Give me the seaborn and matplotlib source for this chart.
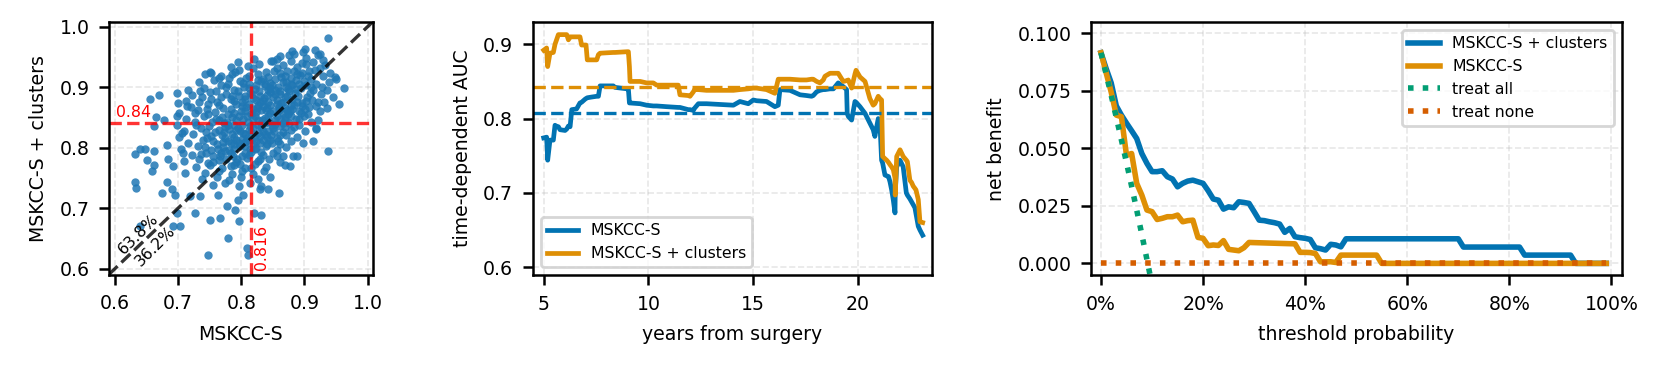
import numpy as np
import matplotlib
matplotlib.use('Agg')
import matplotlib.pyplot as plt
import seaborn as sns
from matplotlib.ticker import PercentFormatter, FormatStrFormatter

# ─────────────────────────────────────────
# Podaci (procijenjeno sa slike)
# ─────────────────────────────────────────

# panel 1: bootstrap C-index parovi (x = MSKCC-S, y = MSKCC-S + clusters), u hiljaditim
boot_pairs = """
938 981, 963 899, 955 873, 950 913, 938 794, 914 811, 919 833, 811 623, 748 623,
809 634, 820 692, 832 689, 797 678, 779 650, 766 684, 751 681, 790 697, 777 703,
795 714, 803 722, 859 725, 843 731, 830 731, 763 722, 735 720, 719 720, 727 692,
703 671, 692 670, 698 692, 639 671, 631 744, 634 733, 631 789, 640 797, 647 797,
650 780, 658 761, 662 772, 662 794, 662 836, 656 881, 669 887, 665 850, 677 845,
674 725, 682 744, 690 731, 695 722, 682 805, 684 781, 692 769, 698 891, 700 874,
699 852, 715 895, 714 869, 706 825, 707 791, 711 758, 735 894, 742 921, 750 925,
764 916, 795 941, 820 946, 851 944, 881 960, 901 963, 916 962, 925 955, 869 772,
877 769, 882 786, 888 786,
862 951, 884 955, 903 948, 921 953, 897 958, 930 945,
828 938, 847 943, 866 936, 879 944, 902 939, 914 942, 933 937, 811 935, 856 947,
797 928, 818 932, 839 925, 857 931, 872 927, 889 934, 907 926, 924 931, 941 924, 783 933,
768 918, 786 922, 808 915, 826 921, 843 917, 861 923, 878 916, 893 920, 911 914, 929 919, 752 924, 948 917,
733 908, 757 912, 779 906, 798 911, 813 905, 832 910, 849 904, 866 909, 881 903, 899 911, 918 906, 939 909,
741 898, 768 903, 788 896, 804 901, 821 897, 838 902, 853 895, 871 900, 886 897, 902 903, 914 896, 928 901,
722 887, 751 892, 776 889, 797 885, 814 891, 829 886, 846 892, 861 888, 876 893, 890 886, 909 891, 926 888, 946 884,
712 878, 738 883, 762 876, 784 881, 801 875, 818 882, 834 877, 851 883, 866 876, 881 880, 896 874, 912 879, 931 876,
721 868, 748 872, 771 866, 792 873, 808 867, 826 871, 841 865, 856 872, 869 866, 884 870, 901 864, 918 869, 936 866,
702 857, 731 862, 758 859, 779 855, 799 861, 816 856, 831 862, 846 857, 859 863, 874 855, 891 860, 906 856, 924 861,
712 848, 741 852, 764 846, 786 851, 803 847, 822 853, 838 849, 854 845, 869 851, 886 847, 899 852, 921 846,
698 838, 726 842, 749 836, 772 841, 789 837, 811 843, 826 838, 844 842, 861 836, 876 841, 892 837, 911 843,
709 828, 736 832, 758 826, 781 831, 798 827, 819 833, 834 828, 851 832, 866 826, 879 830, 901 827, 919 831,
701 818, 724 822, 746 816, 769 821, 788 817, 806 823, 821 818, 838 822, 856 816, 871 821, 889 817,
716 808, 739 812, 761 806, 779 811, 796 807, 812 813, 829 808, 846 812, 862 806, 879 811, 898 808,
704 798, 731 802, 752 796, 771 801, 789 797, 806 803, 821 798, 839 802, 856 796, 871 801,
722 788, 744 792, 766 786, 784 791, 801 787, 816 793, 834 788, 851 792, 866 786,
709 778, 733 782, 756 776, 776 781, 791 777, 809 783, 826 778, 844 782, 861 776,
728 768, 751 772, 769 766, 789 771, 806 767, 821 773, 839 768,
743 758, 764 762, 786 756, 801 761, 819 757, 836 762,
738 748, 761 752, 781 746, 799 751, 826 748, 846 752,
756 738, 774 742, 796 736, 814 741, 831 737,
790 925, 812 919, 835 914, 852 926, 869 918, 887 912, 905 918, 776 901, 795 893,
812 898, 828 893, 845 899, 862 894, 878 905, 894 899, 768 883, 789 878, 806 886,
824 879, 841 887, 857 879, 873 885, 888 876, 904 884, 764 871, 783 864, 801 869,
818 864, 835 869, 850 861, 866 858, 881 864, 896 869, 747 856, 769 851, 792 845,
809 852, 827 846, 843 853, 862 847, 878 852, 754 842, 774 835, 795 832, 814 836,
832 834, 849 837, 866 841, 883 834, 744 826, 764 829, 786 823, 803 825, 826 824,
843 827, 862 821, 756 811, 774 816, 792 813, 809 816, 824 811, 841 806, 742 801,
763 797, 781 796, 798 803, 814 798, 831 793,
837 906, 854 913, 871 909, 888 921, 823 903, 842 896, 858 901, 874 897, 891 905,
817 888, 836 882, 853 889, 869 883, 885 891, 902 878, 812 872, 829 876, 846 870,
863 874, 879 871, 895 858, 788 858, 806 861, 823 859, 839 862, 856 852, 872 862,
778 843, 801 838, 819 847, 837 841, 853 839, 870 845, 773 826, 791 829, 812 829,
829 819, 847 821, 783 808, 801 815, 818 806, 835 812, 768 792, 787 786, 806 791,
849 807, 726 857, 733 876, 729 838, 745 864, 752 881, 916 928, 896 940, 876 953,
780 916, 803 907, 826 912, 845 907, 863 917, 884 926, 760 893, 785 886, 806 880,
825 866, 842 876, 860 868, 877 860, 892 848, 760 848, 779 838, 797 852, 815 826,
833 845, 852 828, 869 834, 752 820, 771 809, 789 806, 806 809, 823 800, 840 818,
858 811, 737 790, 756 786, 775 795, 794 781, 812 788, 829 781, 747 774, 764 779,
783 770, 798 773, 815 766, 856 786, 908 868, 922 876, 911 900, 896 923, 935 895
"""
mean_base = 0.816
mean_clust = 0.84
pct_above = '63.8%'
pct_below = '36.2%'

# panel 2: time-dependent AUC
years = [5.0, 5.14, 5.19, 5.3, 5.46, 5.54, 5.59, 5.7, 5.78, 6.02, 6.1, 6.18, 6.26, 6.34,
         6.57, 6.73, 6.81, 6.97, 7.02, 7.08, 7.29, 7.53, 7.61, 7.69, 8.32, 8.4, 8.99,
         9.04, 9.09, 9.12, 9.6, 9.91, 10.23, 10.39, 10.87, 11.42, 11.5, 11.9, 11.98,
         12.14, 12.2, 12.38, 12.77, 14.05, 14.36, 14.76, 15.0, 15.16, 15.63, 16.03,
         16.19, 16.27, 16.75, 17.23, 17.54, 17.78, 17.86, 18.02, 18.18, 18.34, 18.42,
         18.66, 18.82, 19.05, 19.29, 19.45, 19.48, 19.53, 19.69, 19.85, 19.9, 20.09,
         20.33, 20.56, 20.72, 20.8, 20.96, 21.04, 21.12, 21.17, 21.28, 21.36, 21.45,
         21.52, 21.6, 21.68, 21.76, 21.77, 21.84, 22.0, 22.15, 22.3, 22.35, 22.47,
         22.55, 22.63, 22.71, 22.76, 22.87, 22.95, 23.08]
auc_base = [0.774, 0.775, 0.744, 0.771, 0.771, 0.791, 0.790, 0.789, 0.785, 0.784, 0.786,
            0.790, 0.789, 0.812, 0.813, 0.821, 0.822, 0.826, 0.827, 0.828, 0.829, 0.830,
            0.830, 0.844, 0.844, 0.842, 0.840, 0.840, 0.821, 0.821, 0.820, 0.818, 0.817,
            0.817, 0.816, 0.815, 0.815, 0.812, 0.812, 0.811, 0.814, 0.820, 0.820, 0.818,
            0.823, 0.820, 0.825, 0.824, 0.823, 0.816, 0.818, 0.839, 0.838, 0.832, 0.831,
            0.830, 0.831, 0.836, 0.838, 0.839, 0.839, 0.840, 0.840, 0.848, 0.843, 0.839,
            0.807, 0.803, 0.798, 0.823, 0.822, 0.816, 0.807, 0.794, 0.785, 0.776, 0.800,
            0.794, 0.744, 0.740, 0.724, 0.723, 0.722, 0.715, 0.704, 0.690, 0.673, 0.700,
            0.735, 0.744, 0.735, 0.700, 0.697, 0.692, 0.688, 0.684, 0.680, 0.672, 0.655,
            0.650, 0.643]
auc_clust = [0.892, 0.895, 0.870, 0.888, 0.889, 0.900, 0.904, 0.913, 0.913, 0.913, 0.913,
             0.906, 0.910, 0.910, 0.910, 0.910, 0.899, 0.899, 0.899, 0.879, 0.879, 0.879,
             0.886, 0.888, 0.889, 0.889, 0.890, 0.890, 0.870, 0.850, 0.850, 0.848, 0.848,
             0.845, 0.845, 0.845, 0.832, 0.831, 0.830, 0.836, 0.839, 0.839, 0.838, 0.838,
             0.839, 0.840, 0.841, 0.841, 0.839, 0.834, 0.853, 0.853, 0.853, 0.852, 0.852,
             0.853, 0.853, 0.850, 0.848, 0.852, 0.857, 0.861, 0.861, 0.861, 0.850, 0.851,
             0.851, 0.852, 0.841, 0.860, 0.865, 0.856, 0.850, 0.827, 0.818, 0.820, 0.830,
             0.827, 0.825, 0.749, 0.746, 0.744, 0.741, 0.738, 0.735, 0.731, 0.720, 0.697,
             0.749, 0.758, 0.749, 0.744, 0.742, 0.717, 0.714, 0.709, 0.706, 0.704, 0.691,
             0.661, 0.660]
mean_auc_base = 0.808
mean_auc_clust = 0.842

# panel 3: decision curve (net benefit)
thr_clust = [0.00, 0.01, 0.02, 0.03, 0.04, 0.05, 0.06, 0.07, 0.08, 0.09, 0.10, 0.11, 0.12,
             0.13, 0.14, 0.15, 0.16, 0.17, 0.18, 0.19, 0.20, 0.21, 0.22, 0.23, 0.24, 0.25,
             0.26, 0.27, 0.28, 0.29, 0.30, 0.31, 0.32, 0.33, 0.34, 0.35, 0.36, 0.37, 0.38,
             0.39, 0.40, 0.41, 0.42, 0.43, 0.44, 0.45, 0.46, 0.47, 0.48, 0.70, 0.71, 0.82,
             0.83, 0.92, 0.93, 0.99]
nb_clust = [0.0916, 0.0848, 0.0785, 0.0685, 0.0645, 0.0610, 0.0577, 0.0543, 0.0478,
            0.0435, 0.0399, 0.0399, 0.0403, 0.0377, 0.0367, 0.0333, 0.0348, 0.0358, 0.0362,
            0.0355, 0.0348, 0.0316, 0.0280, 0.0275, 0.0236, 0.0246, 0.0242, 0.0268, 0.0265,
            0.0261, 0.0225, 0.0188, 0.0186, 0.0181, 0.0177, 0.0171, 0.0135, 0.0152, 0.0116,
            0.0112, 0.0109, 0.0104, 0.0068, 0.0064, 0.0058, 0.0083, 0.0080, 0.0072, 0.0107,
            0.0107, 0.0071, 0.0071, 0.0036, 0.0036, 0.0, 0.0]
thr_base = [0.00, 0.01, 0.02, 0.03, 0.04, 0.05, 0.06, 0.07, 0.08, 0.09, 0.10, 0.11, 0.12,
            0.13, 0.14, 0.15, 0.16, 0.17, 0.18, 0.19, 0.20, 0.21, 0.22, 0.23, 0.24, 0.25,
            0.26, 0.27, 0.28, 0.29, 0.38, 0.39, 0.40, 0.41, 0.42, 0.43, 0.44, 0.45, 0.46,
            0.47, 0.54, 0.55, 0.99]
nb_base = [0.0916, 0.0830, 0.0745, 0.0645, 0.0638, 0.0470, 0.0478, 0.0348, 0.0297,
           0.0232, 0.0225, 0.0191, 0.0196, 0.0203, 0.0203, 0.0210, 0.0181, 0.0186, 0.0188,
           0.0113, 0.0109, 0.0077, 0.0080, 0.0078, 0.0099, 0.0061, 0.0058, 0.0055, 0.0068,
           0.0091, 0.0085, 0.0048, 0.0048, 0.0047, 0.0043, 0.0007, 0.0007, 0.0007, 0.0004,
           0.0036, 0.0036, 0.0, 0.0]
thr_all = [0.00, 0.01, 0.02, 0.03, 0.04, 0.05, 0.06, 0.07, 0.08, 0.09, 0.10, 0.11, 0.12]
nb_all = [0.0916, 0.0824, 0.0731, 0.0635, 0.0537, 0.0438, 0.0336, 0.0232, 0.0126,
          0.0017, -0.0093, -0.0207, -0.0323]
thr_none = [0.00, 0.99]
nb_none = [0.0, 0.0]

# ─────────────────────────────────────────
# Stil
# ─────────────────────────────────────────
plt.rcParams.update({
    'font.size': 6.8,
    'axes.linewidth': 0.9,
    'xtick.major.width': 0.9,
    'ytick.major.width': 0.9,
    'legend.fontsize': 'small',
})
pal = sns.color_palette('colorblind')
c_blue, c_orange, c_green, c_red = pal[0], pal[1], pal[2], pal[3]

pairs = np.array([[int(v) for v in p.split()] for p in boot_pairs.replace('\n', ' ').split(',')
                  if p.strip()]) / 1000.0

fig = plt.figure(figsize=(8.305, 1.87), dpi=200)
ax1 = fig.add_axes([0.0656, 0.2647, 0.1589, 0.6765])
ax2 = fig.add_axes([0.3207, 0.2638, 0.2406, 0.6774])
ax3 = fig.add_axes([0.6567, 0.2638, 0.3196, 0.6774])

for ax in (ax1, ax2, ax3):
    ax.grid(True, linestyle='--', linewidth=0.6, alpha=0.3)
    ax.set_axisbelow(True)

# panel 1
sns.scatterplot(x=pairs[:, 0], y=pairs[:, 1], ax=ax1, s=9, linewidth=0,
                color='tab:blue', alpha=0.85)
ax1.plot([0.59, 1.01], [0.59, 1.01], '--', color='black', alpha=0.8, lw=1.2)
ax1.axvline(mean_base, color='red', ls='--', alpha=0.8, lw=1.2)
ax1.axhline(mean_clust, color='red', ls='--', alpha=0.8, lw=1.2)
ax1.text(0.601, mean_clust + 0.005, f'{mean_clust:.2f}', color='red', fontsize='small',
         ha='left', va='bottom')
ax1.text(mean_base + 0.004, 0.598, f'{mean_base:.3f}', color='red', fontsize='small',
         rotation=90, ha='left', va='bottom')
ax1.text(0.637, 0.657, pct_above, rotation=45, fontsize='small', ha='center', va='center')
ax1.text(0.664, 0.638, pct_below, rotation=45, fontsize='small', ha='center', va='center')
ax1.set_xlim(0.5905, 1.0084)
ax1.set_ylim(0.5895, 1.0078)
ax1.set_xticks([0.6, 0.7, 0.8, 0.9, 1.0])
ax1.set_yticks([0.6, 0.7, 0.8, 0.9, 1.0])
ax1.set_xlabel('MSKCC-S')
ax1.set_ylabel('MSKCC-S + clusters')

# panel 2
sns.lineplot(x=years, y=auc_base, ax=ax2, color=c_blue, lw=1.7, label='MSKCC-S',
             estimator=None, sort=False)
sns.lineplot(x=years, y=auc_clust, ax=ax2, color=c_orange, lw=1.7,
             label='MSKCC-S + clusters', estimator=None, sort=False)
ax2.axhline(mean_auc_base, color=c_blue, ls='--', lw=1.2)
ax2.axhline(mean_auc_clust, color=c_orange, ls='--', lw=1.2)
ax2.set_xlim(4.475, 23.54)
ax2.set_ylim(0.589, 0.930)
ax2.set_xticks([5, 10, 15, 20])
ax2.set_yticks([0.6, 0.7, 0.8, 0.9])
ax2.set_xlabel('years from surgery')
ax2.set_ylabel('time-dependent AUC')
ax2.legend(loc='lower left')

# panel 3
sns.lineplot(x=thr_clust, y=nb_clust, ax=ax3, color=c_blue, lw=2.0,
             label='MSKCC-S + clusters', estimator=None, sort=False)
sns.lineplot(x=thr_base, y=nb_base, ax=ax3, color=c_orange, lw=2.0, label='MSKCC-S',
             estimator=None, sort=False)
sns.lineplot(x=thr_all, y=nb_all, ax=ax3, color=c_green, lw=2.0, ls=':', label='treat all',
             estimator=None, sort=False)
sns.lineplot(x=thr_none, y=nb_none, ax=ax3, color=c_red, lw=2.0, ls=':', label='treat none',
             estimator=None, sort=False)
ax3.set_xlim(-0.02, 1.02)
ax3.set_ylim(-0.0052, 0.105)
ax3.set_xticks([0, 0.2, 0.4, 0.6, 0.8, 1.0])
ax3.set_yticks([0, 0.025, 0.05, 0.075, 0.1])
ax3.xaxis.set_major_formatter(PercentFormatter(1.0, decimals=0))
ax3.yaxis.set_major_formatter(FormatStrFormatter('%.3f'))
ax3.set_xlabel('threshold probability')
ax3.set_ylabel('net benefit')
ax3.legend(loc='upper right')

fig.savefig('out.png', dpi=200)
plt.close(fig)
